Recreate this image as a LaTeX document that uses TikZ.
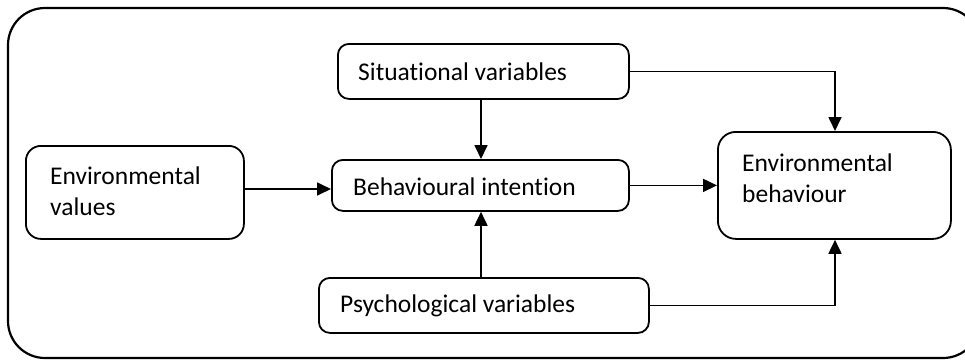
\documentclass[tikz,border=0pt]{standalone}
\usepackage{fontspec}
\setmainfont[Ligatures={NoCommon}]{Carlito}
\usetikzlibrary{arrows.meta}
\begin{document}
\begin{tikzpicture}[x=1pt,y=-1pt,
  box/.style={draw, line width=1.8pt, rounded corners=11pt, anchor=north west, inner sep=0pt},
  lbl/.style={anchor=west, inner sep=0pt, align=left, font=\fontsize{25.5}{31}\selectfont},
  conn/.style={line width=1.7pt, -{Triangle[length=14pt,width=13pt]}}]
\useasboundingbox (0,0) rectangle (965,360);
\draw[line width=2.2pt, rounded corners=37pt] (8,8) rectangle (980,358);
% boxes
\node[box, minimum width=218pt, minimum height=93pt, rounded corners=15pt] (ev) at (25,145) {};
\node[box, minimum width=291pt, minimum height=55pt] (sit) at (337,43) {};
\node[box, minimum width=297pt, minimum height=51pt] (int) at (331,159) {};
\node[box, minimum width=330pt, minimum height=55pt] (psy) at (318,277) {};
\node[box, minimum width=233pt, minimum height=107pt, rounded corners=18pt] (eb) at (717,131) {};
% labels
\node[lbl] (tev) at (50,191) {Environmental\\values};
\node[lbl] (tsit) at (358,72) {Situational variables};
\node[lbl] (tint) at (353,187) {Behavioural intention};
\node[lbl] (tpsy) at (340,306) {Psychological variables};
\node[lbl] (teb) at (742,178) {Environmental\\behaviour};
% helper coordinates
\coordinate (c1) at (835,0);
\coordinate (c2) at (481,0);
\coordinate (c3) at (0,189);
% connectors
\draw[conn] (sit.east) -| (eb.north -| c1);
\draw[conn] (sit.south -| c2) -- (int.north -| c2);
\draw[conn] (ev.east |- c3) -- (int.west |- c3);
\draw[conn] (int.east) -- (eb.west |- int.east);
\draw[conn] (psy.north -| c2) -- (int.south -| c2);
\draw[conn] (psy.east) -| (eb.south -| c1);
\end{tikzpicture}
\end{document}
